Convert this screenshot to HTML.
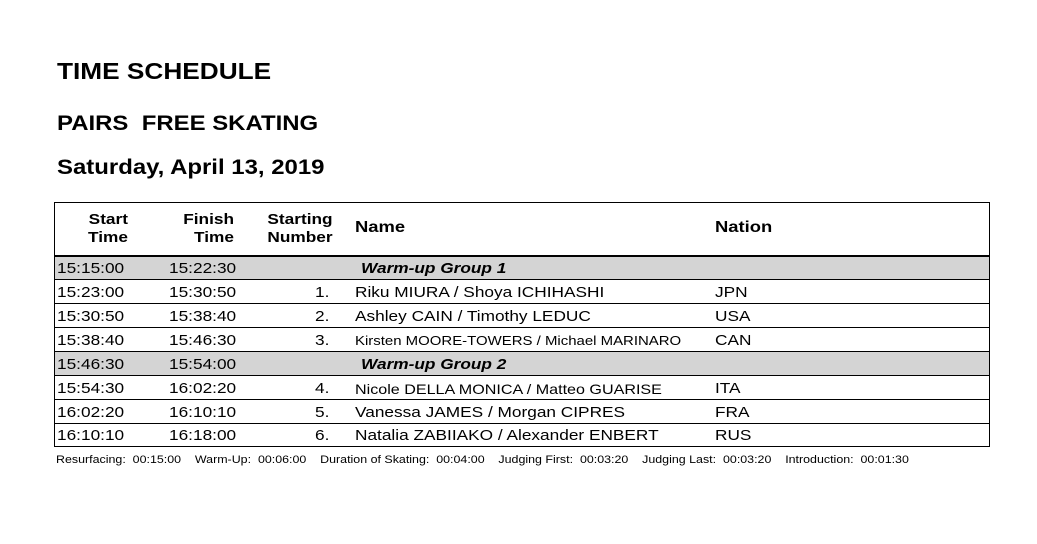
<!DOCTYPE html>
<html><head><style>
body{margin:0;width:1037px;height:544px;background:#fff;position:relative;font-family:"Liberation Sans",Arial,sans-serif;color:#000;overflow:hidden}
.a{position:absolute;line-height:1;white-space:nowrap;transform:scaleX(1.15);transform-origin:left top}
.h{font-weight:bold}
.r{text-align:right;transform-origin:right top}
.c{transform-origin:center top}
.ln{position:absolute;left:55px;width:934px;height:1px;background:#000}
.gray{position:absolute;left:55px;width:934px;background:#d4d4d4}
.t{font-size:15px}
</style></head><body>
<div class="a h" style="left:57px;top:60px;font-size:23px;transform:scaleX(1.14)">TIME SCHEDULE</div>
<div class="a h" style="left:57px;top:113px;font-size:21px;transform:scaleX(1.14)">PAIRS&nbsp; FREE SKATING</div>
<div class="a h" style="left:57px;top:157px;font-size:21px;transform:scaleX(1.14)">Saturday, April 13, 2019</div>

<div class="gray" style="top:256px;height:23px"></div>
<div class="gray" style="top:352px;height:23px"></div>
<div style="position:absolute;left:54px;top:202px;width:934px;height:243px;border:1.5px solid #000"></div>
<div class="ln" style="top:255px;height:1.5px"></div>
<div class="ln" style="top:279px"></div>
<div class="ln" style="top:303px"></div>
<div class="ln" style="top:327px"></div>
<div class="ln" style="top:351px"></div>
<div class="ln" style="top:375px"></div>
<div class="ln" style="top:399px"></div>
<div class="ln" style="top:423px"></div>

<div class="a h r" style="left:60px;width:68px;top:211px;font-size:15px;line-height:18px">Start<br>Time</div>
<div class="a h r" style="left:160px;width:74px;top:211px;font-size:15px;line-height:18px">Finish<br>Time</div>
<div class="a h c" style="left:260px;width:80px;top:211px;font-size:15px;line-height:18px;text-align:center">Starting<br>Number</div>
<div class="a h" style="left:355px;top:220px;font-size:16px">Name</div>
<div class="a h" style="left:715px;top:220px;font-size:16px">Nation</div>

<div class="a t" style="left:57px;top:261px">15:15:00</div><div class="a t" style="left:169px;top:261px">15:22:30</div><div class="a t h" style="left:361px;top:261px;font-style:italic">Warm-up Group 1</div>
<div class="a t" style="left:57px;top:285px">15:23:00</div><div class="a t" style="left:169px;top:285px">15:30:50</div><div class="a t" style="left:315px;top:285px">1.</div><div class="a t" style="left:355px;top:285px">Riku MIURA / Shoya ICHIHASHI</div><div class="a t" style="left:715px;top:285px">JPN</div>
<div class="a t" style="left:57px;top:309px">15:30:50</div><div class="a t" style="left:169px;top:309px">15:38:40</div><div class="a t" style="left:315px;top:309px">2.</div><div class="a t" style="left:355px;top:309px">Ashley CAIN / Timothy LEDUC</div><div class="a t" style="left:715px;top:309px">USA</div>
<div class="a t" style="left:57px;top:333px">15:38:40</div><div class="a t" style="left:169px;top:333px">15:46:30</div><div class="a t" style="left:315px;top:333px">3.</div><div class="a" style="left:355px;top:334px;font-size:13px">Kirsten MOORE-TOWERS / Michael MARINARO</div><div class="a t" style="left:715px;top:333px">CAN</div>
<div class="a t" style="left:57px;top:357px">15:46:30</div><div class="a t" style="left:169px;top:357px">15:54:00</div><div class="a t h" style="left:361px;top:357px;font-style:italic">Warm-up Group 2</div>
<div class="a t" style="left:57px;top:381px">15:54:30</div><div class="a t" style="left:169px;top:381px">16:02:20</div><div class="a t" style="left:315px;top:381px">4.</div><div class="a" style="left:355px;top:382px;font-size:14px">Nicole DELLA MONICA / Matteo GUARISE</div><div class="a t" style="left:715px;top:381px">ITA</div>
<div class="a t" style="left:57px;top:405px">16:02:20</div><div class="a t" style="left:169px;top:405px">16:10:10</div><div class="a t" style="left:315px;top:405px">5.</div><div class="a t" style="left:355px;top:405px">Vanessa JAMES / Morgan CIPRES</div><div class="a t" style="left:715px;top:405px">FRA</div>
<div class="a t" style="left:57px;top:428px">16:10:10</div><div class="a t" style="left:169px;top:428px">16:18:00</div><div class="a t" style="left:315px;top:428px">6.</div><div class="a t" style="left:355px;top:428px">Natalia ZABIIAKO / Alexander ENBERT</div><div class="a t" style="left:715px;top:428px">RUS</div>

<div class="a" style="left:56px;top:455px;font-size:11px;transform:scaleX(1.13)">Resurfacing:&nbsp; 00:15:00 &nbsp;&nbsp; Warm-Up:&nbsp; 00:06:00 &nbsp;&nbsp; Duration of Skating:&nbsp; 00:04:00 &nbsp;&nbsp; Judging First:&nbsp; 00:03:20 &nbsp;&nbsp; Judging Last:&nbsp; 00:03:20 &nbsp;&nbsp; Introduction:&nbsp; 00:01:30</div>
</body></html>
